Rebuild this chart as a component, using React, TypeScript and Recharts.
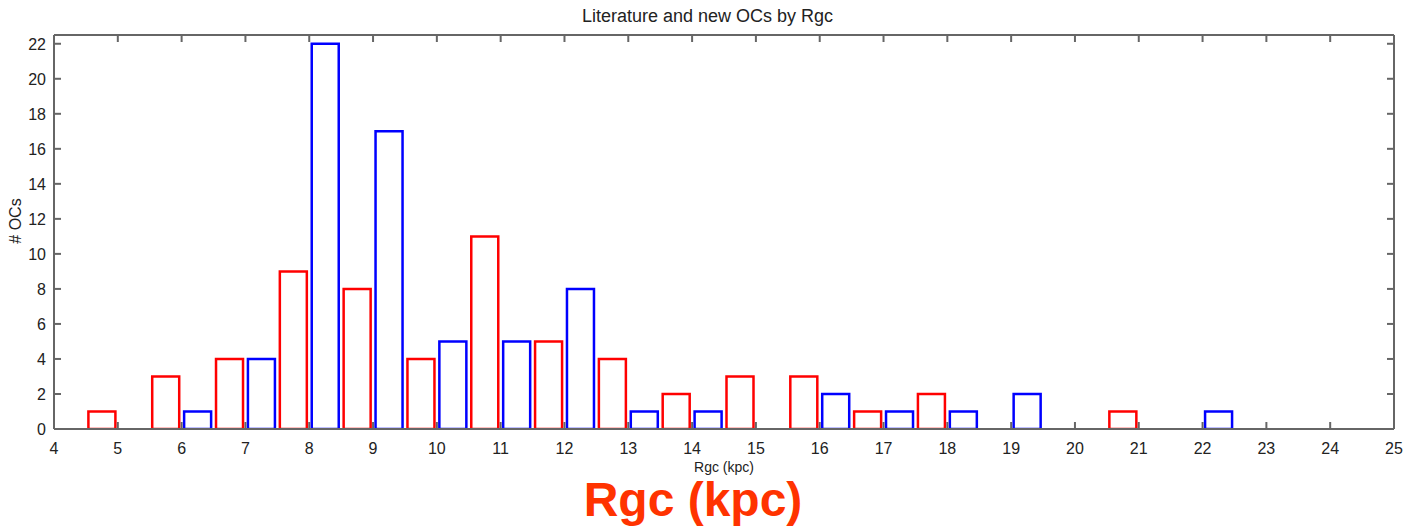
import { Bar, BarChart, Cell, Label, XAxis, YAxis } from "recharts";

const binStarts = [
  4, 4.5, 5, 5.5, 6, 6.5, 7, 7.5, 8, 8.5, 9, 9.5, 10, 10.5, 11, 11.5, 12, 12.5, 13, 13.5, 14,
  14.5, 15, 15.5, 16, 16.5, 17, 17.5, 18, 18.5, 19, 19.5, 20, 20.5, 21, 21.5, 22, 22.5, 23, 23.5,
  24, 24.5,
];

// literature OCs (red)
const redBins = [4.5, 5.5, 6.5, 7.5, 8.5, 9.5, 10.5, 11.5, 12.5, 13.5, 14.5, 15.5, 16.5, 17.5, 20.5];
const redCounts = [1, 3, 4, 9, 8, 4, 11, 5, 4, 2, 3, 3, 1, 2, 1];

// new OCs (blue)
const blueBins = [6, 7, 8, 9, 10, 11, 12, 13, 14, 16, 17, 18, 19, 22];
const blueCounts = [1, 4, 22, 17, 5, 5, 8, 1, 1, 2, 1, 1, 2, 1];

const xTicks = [4, 5, 6, 7, 8, 9, 10, 11, 12, 13, 14, 15, 16, 17, 18, 19, 20, 21, 22, 23, 24, 25];
const yTicks = [0, 2, 4, 6, 8, 10, 12, 14, 16, 18, 20, 22];

const RED = "#ff0000";
const BLUE = "#0000ff";
const AXIS = "#666";
const FONT = "'Liberation Sans', Arial, sans-serif";

const data = binStarts.map((b) => {
  const ri = redBins.indexOf(b);
  const bi = blueBins.indexOf(b);
  return {
    bin: b,
    x: b + 0.25,
    v: ri >= 0 ? redCounts[ri] : bi >= 0 ? blueCounts[bi] : null,
    kind: ri >= 0 ? "red" : "blue",
  };
});

function BottomTick({ x, y, payload }: any) {
  return (
    <g>
      <line x1={x} x2={x} y1={y} y2={y - 7} stroke={AXIS} strokeWidth={2} />
      <text x={x} y={y + 25} textAnchor="middle" fontSize={16} fill="#222" fontFamily={FONT}>
        {payload.value}
      </text>
    </g>
  );
}

function TopTick({ x, y }: any) {
  return <line x1={x} x2={x} y1={y} y2={y + 7} stroke={AXIS} strokeWidth={2} />;
}

function LeftTick({ x, y, payload }: any) {
  return (
    <g>
      <line x1={x} x2={x + 7} y1={y} y2={y} stroke={AXIS} strokeWidth={2} />
      <text x={x - 8} y={y} dy="0.36em" textAnchor="end" fontSize={16} fill="#222" fontFamily={FONT}>
        {payload.value}
      </text>
    </g>
  );
}

function RightTick({ x, y }: any) {
  return <line x1={x} x2={x - 7} y1={y} y2={y} stroke={AXIS} strokeWidth={2} />;
}

export default function App() {
  return (
    <div style={{ position: "absolute", left: 0, top: 0, width: 1405, height: 527, background: "#fff", fontFamily: FONT }}>
      <div style={{ position: "absolute", left: 0, width: 1415, top: 6, textAlign: "center", fontSize: 18, color: "#222", lineHeight: "20px" }}>
        Literature and new OCs by Rgc
      </div>
      <div
        style={{
          position: "absolute",
          left: 16,
          top: 221,
          transform: "translate(-50%, -50%) rotate(-90deg)",
          fontSize: 16,
          color: "#222",
          whiteSpace: "nowrap",
        }}
      >
        # OCs
      </div>
      <BarChart
        width={1405}
        height={527}
        data={data}
        margin={{ top: 34, right: 10, left: 0, bottom: 48 }}
        barCategoryGap={2.5}
      >
        <XAxis
          xAxisId="num"
          dataKey="x"
          type="number"
          domain={[4, 25]}
          ticks={xTicks}
          allowDataOverflow
          height={50}
          tickSize={0}
          tickMargin={0}
          tickLine={false}
          tick={<BottomTick />}
          interval={0}
          axisLine={{ stroke: AXIS, strokeWidth: 2 }}
        >
          <Label value="Rgc (kpc)" position="insideBottom" offset={7} style={{ fontSize: 14, fill: "#222", fontFamily: FONT }} />
        </XAxis>
        <XAxis xAxisId="cat" dataKey="bin" type="category" height={0} hide />
        <XAxis
          xAxisId="top"
          dataKey="x"
          type="number"
          orientation="top"
          domain={[4, 25]}
          ticks={xTicks}
          allowDataOverflow
          height={1}
          tickSize={0}
          tickMargin={0}
          tickLine={false}
          tick={<TopTick />}
          interval={0}
          axisLine={{ stroke: AXIS, strokeWidth: 2 }}
        />
        <YAxis
          yAxisId="y"
          domain={[0, 22.5]}
          ticks={yTicks}
          allowDataOverflow
          width={54}
          tickSize={0}
          tickMargin={0}
          tickLine={false}
          tick={<LeftTick />}
          interval={0}
          axisLine={{ stroke: AXIS, strokeWidth: 2 }}
        />
        <YAxis
          yAxisId="yr"
          orientation="right"
          domain={[0, 22.5]}
          ticks={yTicks}
          allowDataOverflow
          width={1}
          tickSize={0}
          tickMargin={0}
          tickLine={false}
          tick={<RightTick />}
          interval={0}
          axisLine={{ stroke: AXIS, strokeWidth: 2 }}
        />
        <Bar xAxisId="cat" yAxisId="y" dataKey="v" fill="none" strokeWidth={2.5} isAnimationActive={false}>
          {data.map((d, i) => (
            <Cell key={i} stroke={d.kind === "red" ? RED : BLUE} />
          ))}
        </Bar>
      </BarChart>
      <div
        style={{
          position: "absolute",
          left: 0,
          width: 1386,
          top: 482,
          textAlign: "center",
          fontSize: 48,
          fontWeight: "bold",
          color: "#ff3300",
          lineHeight: "36px",
        }}
      >
        Rgc (kpc)
      </div>
    </div>
  );
}
